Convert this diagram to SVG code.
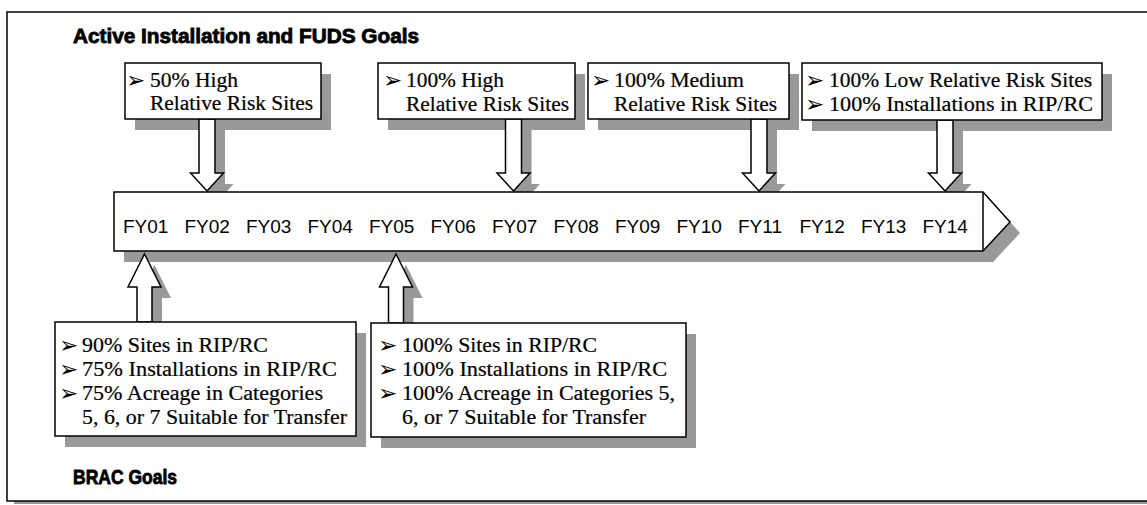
<svg xmlns="http://www.w3.org/2000/svg" width="1147" height="505" viewBox="0 0 1147 505">
  <style>
    .shape { fill: #ffffff; stroke: #000000; stroke-width: 1.5; stroke-linejoin: miter; }
    .heading { font-family: "Liberation Sans", Arial, sans-serif; font-weight: bold; font-size: 20px; fill: #000; stroke: #000; stroke-width: 0.8; }
    .year { font-family: "Liberation Sans", Arial, sans-serif; font-size: 19px; fill: #000; }
    .goal { font-family: "Liberation Serif", "Times New Roman", serif; font-size: 20px; fill: #000; stroke: #000; stroke-width: 0.2; }
    .bul { font-family: "DejaVu Sans", sans-serif; font-size: 23px; fill: #000; }
  </style>
  <defs>
    <!-- reusable outlines: drawn once as a grey drop shadow, once as the white shape -->
    <rect id="s-frame" x="7" y="12" width="1150" height="489"/>
    <polygon id="s-timeline" points="114,192 983,192 1010,222 983,251 114,251"/>
    <rect id="s-g1" x="125" y="63" width="196" height="56"/>
    <rect id="s-g2" x="378" y="63" width="197" height="56"/>
    <rect id="s-g3" x="588" y="63" width="201" height="56"/>
    <rect id="s-g4" x="802" y="63" width="300" height="57"/>
    <rect id="s-b1" x="55" y="322" width="301" height="114"/>
    <rect id="s-b2" x="371" y="323" width="315" height="114"/>
    <polygon id="s-a1" points="199,119 215,119 215,173 223.5,173 207,191 190.5,173 199,173"/>
    <polygon id="s-a2" points="505.5,119 521.5,119 521.5,173 530,173 513.5,191 497,173 505.5,173"/>
    <polygon id="s-a3" points="751,119 767,119 767,173 775.5,173 759,191 742.5,173 751,173"/>
    <polygon id="s-a4" points="937,120 953,120 953,173 961.5,173 945,191 928.5,173 937,173"/>
    <polygon id="s-u1" points="144.5,254 161,287 152,287 152,322 137,322 137,287 128,287"/>
    <polygon id="s-u2" points="396,254 412.5,287 403.5,287 403.5,323 388.5,323 388.5,287 379.5,287"/>
  </defs>

  <!-- page frame -->
  <g id="frame">
    <use href="#s-frame" fill="#999999" transform="translate(7,3)"/>
    <use href="#s-frame" class="shape"/>
  </g>

  <!-- drop shadows for every node and arrow -->
  <g id="shadows" fill="#999999" transform="translate(10,11)">
    <use href="#s-timeline"/>
    <use href="#s-g1"/>
    <use href="#s-g2"/>
    <use href="#s-g3"/>
    <use href="#s-g4"/>
    <use href="#s-b1"/>
    <use href="#s-b2"/>
    <use href="#s-a1"/>
    <use href="#s-a2"/>
    <use href="#s-a3"/>
    <use href="#s-a4"/>
    <use href="#s-u1"/>
    <use href="#s-u2"/>
  </g>

  <!-- block arrows linking goals to fiscal years -->
  <g id="connectors">
    <use href="#s-a1" class="shape"/>
    <use href="#s-a2" class="shape"/>
    <use href="#s-a3" class="shape"/>
    <use href="#s-a4" class="shape"/>
    <use href="#s-u1" class="shape"/>
    <use href="#s-u2" class="shape"/>
  </g>

  <!-- section headings -->
  <text id="title-active" class="heading" x="73" y="43" textLength="346" lengthAdjust="spacingAndGlyphs">Active Installation and FUDS Goals</text>
  <text id="title-brac" class="heading" x="73" y="484" textLength="104" lengthAdjust="spacingAndGlyphs">BRAC Goals</text>

  <!-- fiscal year timeline -->
  <g id="timeline">
    <use href="#s-timeline" class="shape"/>
    <line x1="983" y1="192" x2="983" y2="251" stroke="#000" stroke-width="1.5"/>
    <text class="year" x="123" y="233">FY01</text>
    <text class="year" x="184.5" y="233">FY02</text>
    <text class="year" x="246" y="233">FY03</text>
    <text class="year" x="307.5" y="233">FY04</text>
    <text class="year" x="369" y="233">FY05</text>
    <text class="year" x="430.5" y="233">FY06</text>
    <text class="year" x="492" y="233">FY07</text>
    <text class="year" x="553.5" y="233">FY08</text>
    <text class="year" x="615" y="233">FY09</text>
    <text class="year" x="676.5" y="233">FY10</text>
    <text class="year" x="738" y="233">FY11</text>
    <text class="year" x="799.5" y="233">FY12</text>
    <text class="year" x="861" y="233">FY13</text>
    <text class="year" x="922.5" y="233">FY14</text>
  </g>

  <!-- active installation / FUDS goals -->
  <g id="goal-fy01">
    <use href="#s-g1" class="shape"/>
    <text class="bul" x="126" y="88">➢</text>
    <text class="goal" x="150" y="87" textLength="88" lengthAdjust="spacingAndGlyphs">50% High</text>
    <text class="goal" x="150" y="110" textLength="163" lengthAdjust="spacingAndGlyphs">Relative Risk Sites</text>
  </g>
  <g id="goal-fy07">
    <use href="#s-g2" class="shape"/>
    <text class="bul" x="383" y="88">➢</text>
    <text class="goal" x="406" y="87" textLength="98" lengthAdjust="spacingAndGlyphs">100% High</text>
    <text class="goal" x="406" y="111" textLength="163" lengthAdjust="spacingAndGlyphs">Relative Risk Sites</text>
  </g>
  <g id="goal-fy11">
    <use href="#s-g3" class="shape"/>
    <text class="bul" x="591" y="88">➢</text>
    <text class="goal" x="614" y="87" textLength="130" lengthAdjust="spacingAndGlyphs">100% Medium</text>
    <text class="goal" x="614" y="111" textLength="163" lengthAdjust="spacingAndGlyphs">Relative Risk Sites</text>
  </g>
  <g id="goal-fy14">
    <use href="#s-g4" class="shape"/>
    <text class="bul" x="805" y="88">➢</text>
    <text class="goal" x="829" y="87" textLength="263" lengthAdjust="spacingAndGlyphs">100% Low Relative Risk Sites</text>
    <text class="bul" x="805" y="112">➢</text>
    <text class="goal" x="829" y="111" textLength="264" lengthAdjust="spacingAndGlyphs">100% Installations in RIP/RC</text>
  </g>

  <!-- BRAC goals -->
  <g id="brac-fy01">
    <use href="#s-b1" class="shape"/>
    <text class="bul" x="59" y="353">➢</text>
    <text class="goal" x="82" y="352" textLength="186" lengthAdjust="spacingAndGlyphs">90% Sites in RIP/RC</text>
    <text class="bul" x="59" y="377">➢</text>
    <text class="goal" x="82" y="376" textLength="255" lengthAdjust="spacingAndGlyphs">75% Installations in RIP/RC</text>
    <text class="bul" x="59" y="401">➢</text>
    <text class="goal" x="82" y="400" textLength="241" lengthAdjust="spacingAndGlyphs">75% Acreage in Categories</text>
    <text class="goal" x="82" y="424" textLength="265" lengthAdjust="spacingAndGlyphs">5, 6, or 7 Suitable for Transfer</text>
  </g>
  <g id="brac-fy05">
    <use href="#s-b2" class="shape"/>
    <text class="bul" x="378" y="353">➢</text>
    <text class="goal" x="402" y="352" textLength="195" lengthAdjust="spacingAndGlyphs">100% Sites in RIP/RC</text>
    <text class="bul" x="378" y="377">➢</text>
    <text class="goal" x="402" y="376" textLength="265" lengthAdjust="spacingAndGlyphs">100% Installations in RIP/RC</text>
    <text class="bul" x="378" y="401">➢</text>
    <text class="goal" x="402" y="400" textLength="273" lengthAdjust="spacingAndGlyphs">100% Acreage in Categories 5,</text>
    <text class="goal" x="402" y="424" textLength="244" lengthAdjust="spacingAndGlyphs">6, or 7 Suitable for Transfer</text>
  </g>
</svg>
